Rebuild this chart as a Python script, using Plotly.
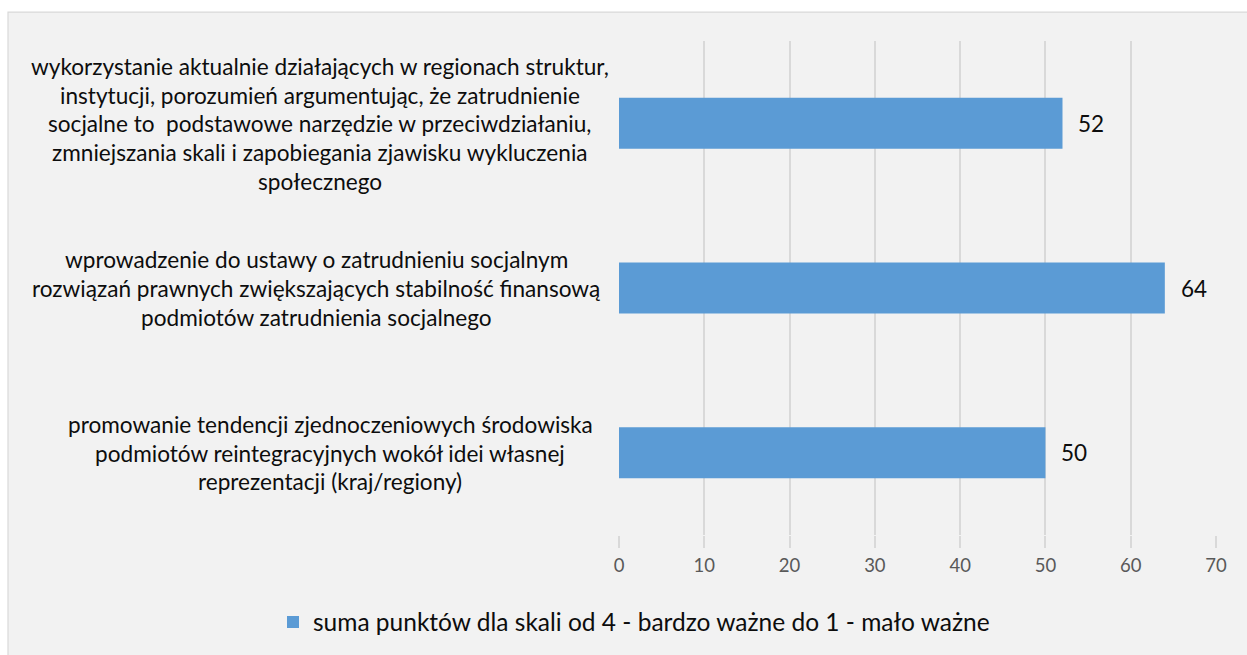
import plotly.graph_objects as go

# Category labels, one list of wrapped lines per bar (top to bottom)
label_lines = [
    ["wykorzystanie aktualnie działających w regionach struktur,",
     "instytucji, porozumień argumentując, że zatrudnienie",
     "socjalne to  podstawowe narzędzie w przeciwdziałaniu,",
     "zmniejszania skali i zapobiegania zjawisku wykluczenia",
     "społecznego"],
    ["wprowadzenie do ustawy o zatrudnieniu socjalnym",
     "rozwiązań prawnych zwiększających stabilność finansową",
     "podmiotów zatrudnienia socjalnego"],
    ["promowanie tendencji zjednoczeniowych środowiska",
     "podmiotów reintegracyjnych wokół idei własnej",
     "reprezentacji (kraj/regiony)"],
]
categories = [" ".join(lines) for lines in label_lines]
values = [52, 64, 50]
series_name = "suma punktów dla skali od 4 - bardzo ważne do 1 - mało ważne"
x_ticks = [0, 10, 20, 30, 40, 50, 60, 70]

FONT = "Lato"
BAR = "#5b9bd5"
GRID = "#d9d9d9"

# Figure geometry (pixels)
W, H = 1247, 655
L, R, T, B = 619, 31, 41, 119
pw, ph = W - L - R, H - T - B


def px_x(p):
    return (p - L) / pw


def px_y(p):
    return (H - B - p) / ph


fig = go.Figure(
    go.Bar(
        x=values,
        y=categories,
        orientation="h",
        marker=dict(color=BAR, line=dict(width=0)),
        name=series_name,
        width=0.31,
        showlegend=True,
    )
)

annotations = []
# wrapped category labels, lines centred on each other
label_centres = [320, 316, 330]
LINE_H = 28.75
for cat, lines, cx in zip(categories, label_lines, label_centres):
    n = len(lines)
    for i, line in enumerate(lines):
        annotations.append(dict(
            x=px_x(cx), xref="paper", y=cat, yref="y",
            text=line, showarrow=False, xanchor="center", yanchor="middle",
            yshift=-(i - (n - 1) / 2) * LINE_H - 0.5,
            font=dict(family=FONT, size=22.6, color="#0d0d0d"),
        ))

# value labels at the end of each bar
for cat, v in zip(categories, values):
    annotations.append(dict(
        x=v, xref="x", y=cat, yref="y", text=str(v), showarrow=False,
        xanchor="left", yanchor="middle", xshift=14, yshift=0,
        font=dict(family=FONT, size=22.5, color="#0d0d0d"),
    ))

fig.update_layout(
    width=W, height=H,
    margin=dict(l=L, r=R, t=T, b=B, pad=0),
    paper_bgcolor="white",
    plot_bgcolor="rgba(0,0,0,0)",
    bargap=0.69,
    annotations=annotations,
    shapes=[dict(
        type="rect", xref="paper", yref="paper", layer="below",
        x0=px_x(8), x1=px_x(W + 20), y0=px_y(12), y1=px_y(H + 20),
        fillcolor="#f2f2f2", line=dict(color=GRID, width=1.2),
    )],
    xaxis=dict(
        range=[0, 70], tickvals=x_ticks, ticktext=[str(t) for t in x_ticks],
        showgrid=True, gridcolor=GRID, gridwidth=1.5,
        zeroline=False, showline=False,
        ticks="outside", ticklen=12, tickcolor=GRID, tickwidth=1.5,
        ticklabelstandoff=2,
        tickfont=dict(family=FONT, size=18.5, color="#595959"),
        fixedrange=True,
    ),
    yaxis=dict(
        categoryorder="array", categoryarray=categories, autorange="reversed",
        showticklabels=False, showgrid=False, zeroline=False, showline=False,
        ticks="", fixedrange=True,
    ),
    legend=dict(
        orientation="h", x=px_x(634), xanchor="center",
        y=px_y(622), yanchor="middle",
        bgcolor="rgba(0,0,0,0)",
        font=dict(family=FONT, size=24.5, color="#0d0d0d"),
        itemwidth=30,
    ),
    font=dict(family=FONT),
)

fig.write_html("out.html")
